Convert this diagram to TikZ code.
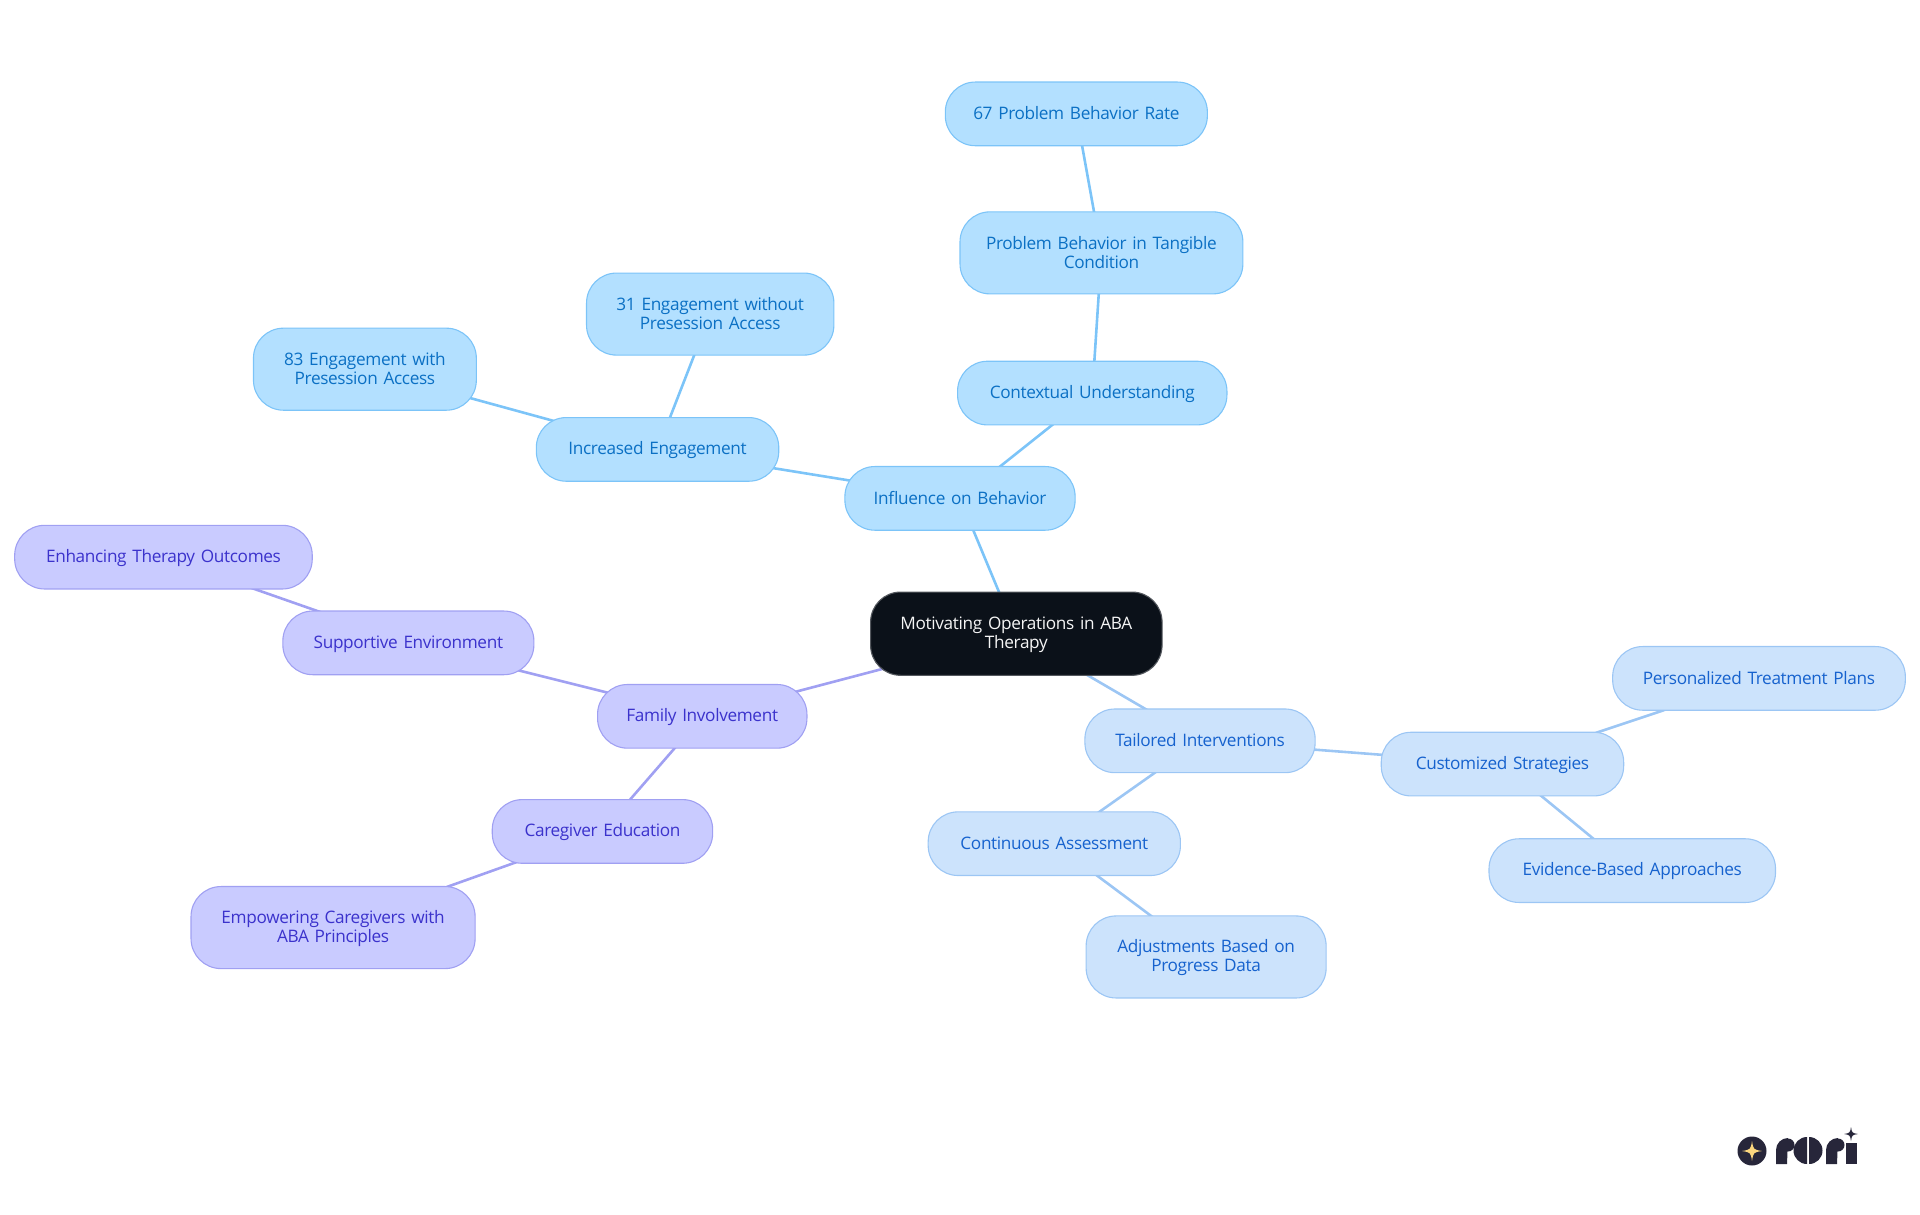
\documentclass[tikz,border=0pt]{standalone}
\usepackage{fontspec}
\setmainfont[WordSpace=0.6,LetterSpace=-2]{Open Sans}
\usetikzlibrary{backgrounds}
\definecolor{skyfill}{HTML}{B3E0FF}
\definecolor{skyline}{HTML}{7CC4F8}
\definecolor{skytext}{HTML}{0B70C4}
\definecolor{palefill}{HTML}{CCE3FC}
\definecolor{paleline}{HTML}{9CC6F4}
\definecolor{paletext}{HTML}{1662CE}
\definecolor{purpfill}{HTML}{C9CBFF}
\definecolor{purpline}{HTML}{A0A0F2}
\definecolor{purptext}{HTML}{3B32CC}
\definecolor{rootfill}{HTML}{0B1119}
\definecolor{logoink}{HTML}{27263A}
\definecolor{logostar}{HTML}{FBD67E}
\tikzset{
  x=1pt,y=-1pt,
  mapbox/.style={rectangle,rounded corners=30pt,line width=1.1pt,inner sep=0pt,
    align=center,text width=260pt,font=\fontsize{17.2}{18.8}\selectfont},
  sky/.style={mapbox,fill=skyfill,draw=skyline,text=skytext},
  pale/.style={mapbox,fill=palefill,draw=paleline,text=paletext},
  purp/.style={mapbox,fill=purpfill,draw=purpline,text=purptext},
  rootbox/.style={mapbox,fill=rootfill,draw=rootfill!70!white,text=white!96!black},
  skyedge/.style={line width=2.6pt,draw=skyline},
  paleedge/.style={line width=2.6pt,draw=paleline},
  purpedge/.style={line width=2.6pt,draw=purpline},
  ink/.style={fill=logoink,draw=none},
}
% name, style, left, right, top, bottom (in 1568-wide units), text
\newcommand{\mapnode}[7]{%
  \pgfmathsetmacro{\mnx}{(#3+#4)/2*1.2245}%
  \pgfmathsetmacro{\mny}{(#5+#6)/2*1.2245}%
  \pgfmathsetmacro{\mnw}{(#4-#3)*1.2245}%
  \pgfmathsetmacro{\mnh}{(#6-#5)*1.2245}%
  \node[#2,minimum width=\mnw pt,minimum height=\mnh pt,text width=\mnw pt-4pt] (#1) at (\mnx,\mny)
    {\rule[-3pt]{0pt}{17.6pt}#7\rule[-3pt]{0pt}{17.6pt}};}
\newcommand{\logostarshape}[4]{%
  \fill[#4] (#1,#2-#3) .. controls (#1+0.14*#3,#2-0.14*#3) .. (#1+#3,#2)
     .. controls (#1+0.14*#3,#2+0.14*#3) .. (#1,#2+#3)
     .. controls (#1-0.14*#3,#2+0.14*#3) .. (#1-#3,#2)
     .. controls (#1-0.14*#3,#2-0.14*#3) .. cycle;}
\begin{document}
\begin{tikzpicture}
\useasboundingbox (0,0) rectangle (1920,1215);
\mapnode{root}{rootbox}{711}{949}{483.5}{551.5}{Motivating Operations in ABA\\Therapy}
\mapnode{infl}{sky}{690}{878}{381}{433}{Influence on Behavior}
\mapnode{ctx}{sky}{782}{1002}{295}{347}{Contextual Understanding}
\mapnode{prob}{sky}{784}{1015}{173}{240}{Problem Behavior in Tangible\\Condition}
\mapnode{rate}{sky}{772}{986}{67}{119}{67 Problem Behavior Rate}
\mapnode{engage}{sky}{438}{636}{341}{393}{Increased Engagement}
\mapnode{without}{sky}{479}{681}{223}{290}{31 Engagement without\\Presession Access}
\mapnode{with}{sky}{207}{389}{268}{335}{83 Engagement with\\Presession Access}
\mapnode{family}{purp}{488}{659}{559}{611}{Family Involvement}
\mapnode{support}{purp}{231}{436}{499}{551}{Supportive Environment}
\mapnode{enhance}{purp}{12}{255}{429}{481}{Enhancing Therapy Outcomes}
\mapnode{educ}{purp}{402}{582}{653}{705}{Caregiver Education}
\mapnode{empower}{purp}{156}{388}{724}{791}{Empowering Caregivers with\\ABA Principles}
\mapnode{tailor}{pale}{886}{1074}{579}{631}{Tailored Interventions}
\mapnode{custom}{pale}{1128}{1326}{598}{650}{Customized Strategies}
\mapnode{person}{pale}{1317}{1556}{528}{580}{Personalized Treatment Plans}
\mapnode{evid}{pale}{1216}{1450}{685}{737}{Evidence-Based Approaches}
\mapnode{assess}{pale}{758}{964}{663}{715}{Continuous Assessment}
\mapnode{adjust}{pale}{887}{1083}{748}{815}{Adjustments Based on\\Progress Data}
\begin{scope}[on background layer]
  \draw[skyedge] (root.center) -- (infl.center);
  \draw[skyedge] (infl.center) -- (ctx.center);
  \draw[skyedge] (ctx.center) -- (prob.center);
  \draw[skyedge] (prob.center) -- (rate.center);
  \draw[skyedge] (infl.center) -- (engage.center);
  \draw[skyedge] (engage.center) -- (without.center);
  \draw[skyedge] (engage.center) -- (with.center);
  \draw[purpedge] (root.center) -- (family.center);
  \draw[purpedge] (family.center) -- (support.center);
  \draw[purpedge] (support.center) -- (enhance.center);
  \draw[purpedge] (family.center) -- (educ.center);
  \draw[purpedge] (educ.center) -- (empower.center);
  \draw[paleedge] (root.center) -- (tailor.center);
  \draw[paleedge] (tailor.center) -- (custom.center);
  \draw[paleedge] (custom.center) -- (person.center);
  \draw[paleedge] (custom.center) -- (evid.center);
  \draw[paleedge] (tailor.center) -- (assess.center);
  \draw[paleedge] (assess.center) -- (adjust.center);
\end{scope}
% logo
\fill[logoink] (1752,1151) circle[radius=14.5];
\logostarshape{1752}{1151}{10}{logostar}
% r
\fill[ink] (1776,1164) -- (1776,1150) arc[start angle=180,end angle=270,radius=12] -- (1787,1164) -- cycle;
\fill[ink] (1788,1145) circle[radius=6.5];
% o (two halves)
\fill[ink] (1807,1137) arc[start angle=270,end angle=90,radius=13.5] -- cycle;
\fill[ink] (1809,1137) arc[start angle=-90,end angle=90,radius=13.5] -- cycle;
% r
\fill[ink] (1826,1164) -- (1826,1150) arc[start angle=180,end angle=270,radius=12] -- (1837,1164) -- cycle;
\fill[ink] (1838,1145) circle[radius=6.5];
% i
\fill[ink] (1846,1143) -- (1857,1143) -- (1857,1164) -- (1846,1164) -- cycle;
\logostarshape{1851}{1134}{7}{logoink}
\end{tikzpicture}
\end{document}
